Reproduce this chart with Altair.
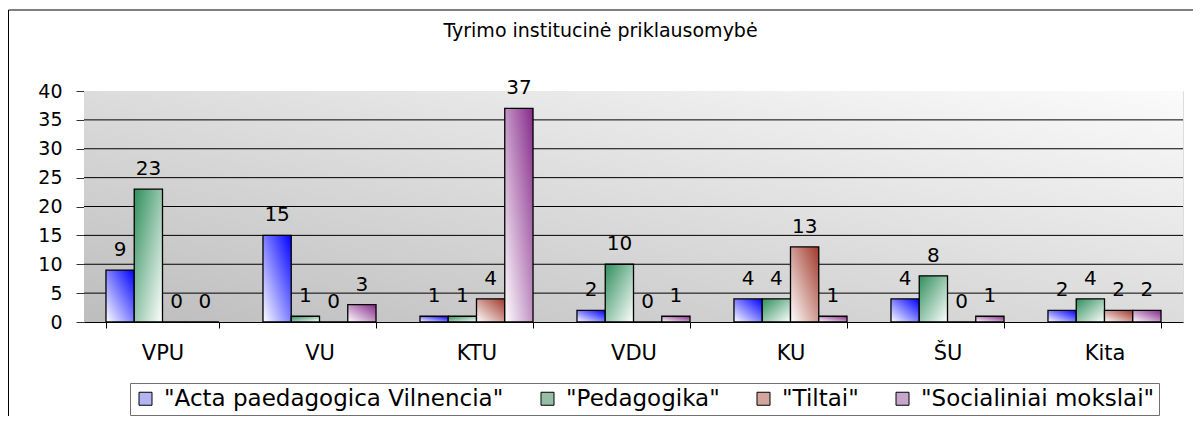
import altair as alt
import pandas as pd

categories = ["VPU", "VU", "KTU", "VDU", "KU", "ŠU", "Kita"]
series = ['"Acta paedagogica Vilnencia"', '"Pedagogika"', '"Tiltai"', '"Socialiniai mokslai"']
acta = [9, 15, 1, 2, 4, 4, 2]
pedagogika = [23, 1, 1, 10, 4, 8, 4]
tiltai = [0, 0, 4, 0, 13, 0, 2]
socialiniai = [0, 3, 37, 1, 1, 1, 2]
y_ticks = [0, 5, 10, 15, 20, 25, 30, 35, 40]
title_text = "Tyrimo institucinė priklausomybė"

all_values = [acta, pedagogika, tiltai, socialiniai]
rows = []
for s, vals in zip(series, all_values):
    for c, v in zip(categories, vals):
        rows.append({"cat": c, "series": s, "value": v})
df = pd.DataFrame(rows)
grid_df = pd.DataFrame({"value": y_ticks[1:-1]})

FONT = "DejaVu Sans"

def grad(c_from, c_to, x1, y1, x2, y2):
    return {
        "gradient": "linear", "x1": x1, "y1": y1, "x2": x2, "y2": y2,
        "stops": [{"offset": 0, "color": c_from}, {"offset": 1, "color": c_to}],
    }

bar_grads = [
    grad("#ffffff", "#0000ff", 0, 1, 1, 0),
    grad("#2f8f5c", "#ffffff", 0, 0, 1, 1),
    grad("#ffffff", "#a0382a", 0, 1, 1, 0),
    grad("#ffffff", "#862a8a", 0, 1, 1, 0),
]
legend_fills = ["#b4b4f2", "#96bea6", "#d2a69c", "#c6a6cc"]
bg_grad = grad("#bdbdbd", "#fbfbfb", 0, 1, 1, 0)

x_enc = alt.X(
    "cat:N", sort=categories,
    scale=alt.Scale(paddingInner=0.28, paddingOuter=0.14),
    axis=alt.Axis(
        title=None, labelAngle=0, tickBand="extent", labelFont=FONT, labelFontSize=21,
        labelColor="black", labelPadding=14, tickSize=6, tickColor="black",
        domainColor="black", grid=False,
    ),
)
xoff_enc = alt.XOffset("series:N", sort=series,
                       scale=alt.Scale(domain=series, paddingInner=0, paddingOuter=0))
y_enc = alt.Y(
    "value:Q", scale=alt.Scale(domain=[0, 40], nice=False),
    axis=alt.Axis(
        title=None, values=y_ticks, labelFont=FONT, labelFontSize=19, labelColor="black",
        labelPadding=14, tickSize=8, tickColor="#333333", domainColor="#333333",
        grid=False,
    ),
)

background = alt.Chart(pd.DataFrame({"a": [0]})).mark_rect(fill=bg_grad).encode(
    x=alt.value(0), x2=alt.value("width"), y=alt.value(0), y2=alt.value("height")
)

grid = alt.Chart(grid_df).mark_rule(color="black", strokeWidth=1).encode(y=y_enc)

base = alt.Chart(df).encode(x=x_enc, xOffset=xoff_enc, y=y_enc)

legend_bars = base.mark_bar(strokeWidth=0).encode(
    color=alt.Color(
        "series:N", sort=series,
        scale=alt.Scale(domain=series, range=legend_fills),
        legend=alt.Legend(
            title=None, orient="none", legendX=46, legendY=292, direction="horizontal",
            symbolType="square", symbolSize=169, symbolStrokeColor="black",
            symbolStrokeWidth=1, labelFont=FONT, labelFontSize=23, labelColor="black",
            labelOffset=7, columnPadding=32, padding=4, strokeColor="#707070",
            fillColor="white", labelLimit=500,
        ),
    )
)

grad_layers = []
for s, g in zip(series, bar_grads):
    grad_layers.append(
        base.transform_filter(alt.datum.series == s).mark_bar(
            fill=g, stroke="black", strokeWidth=1.3
        )
    )

labels = base.mark_text(
    baseline="alphabetic", dy=-14, font=FONT, fontSize=20, color="black"
).encode(text="value:Q")

frame = alt.Chart(pd.DataFrame({"a": [0]})).mark_rect(
    fillOpacity=0, stroke="black", strokeWidth=1
).encode(x=alt.value(-75.5), x2=alt.value(1200), y=alt.value(-81), y2=alt.value(500))

chart = alt.layer(background, grid, legend_bars, *grad_layers, labels, frame).properties(
    width=1099, height=231,
    padding={"left": 76, "top": 83, "right": 10, "bottom": 94},
    autosize=alt.AutoSizeParams(type="none"),
    title=alt.TitleParams(
        title_text, font=FONT, fontSize=19, fontWeight="normal", color="black",
        anchor="middle", frame="group", offset=-31, dx=-33,
    ),
).configure_view(
    stroke="#808080", strokeWidth=1.5,
).configure(background="white")

chart.save("out.html", embed_options={"renderer": "svg", "actions": False})
